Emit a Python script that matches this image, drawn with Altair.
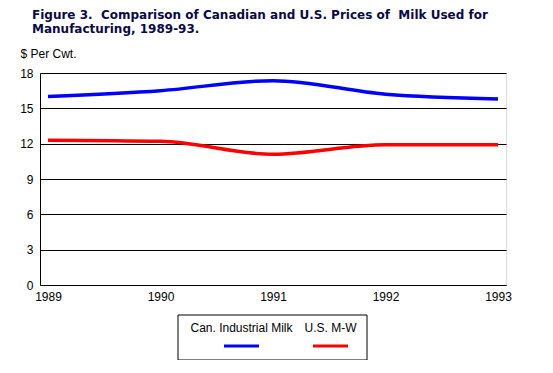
import altair as alt
import pandas as pd

years = [1989, 1990, 1991, 1992, 1993]
can_industrial = [16.0, 16.5, 17.35, 16.2, 15.8]
us_mw = [12.3, 12.2, 11.1, 11.9, 11.9]
series_names = ["Can. Industrial Milk", "U.S. M-W"]
series_colors = ["#0000FF", "#FF0000"]
y_ticks = [0, 3, 6, 9, 12, 15, 18]
title_lines = [
    "Figure 3.\u00a0 Comparison of Canadian and U.S. Prices of\u00a0 Milk Used for",
    "Manufacturing, 1989-93.",
]
y_title = "$ Per Cwt."

FONT = "Liberation Sans"

df = pd.DataFrame({
    "year": years * 2,
    "value": can_industrial + us_mw,
    "series": [series_names[0]] * len(years) + [series_names[1]] * len(years),
})

color_scale = alt.Scale(domain=series_names, range=series_colors)

lines = alt.Chart(df).mark_line(
    strokeWidth=3.5, interpolate="monotone"
).encode(
    x=alt.X("year:O", scale=alt.Scale(type="point", padding=0.071),
            axis=alt.Axis(title=None, labelAngle=0, ticks=False, domain=True,
                          domainColor="black", labelPadding=6, grid=False,
                          labelFont=FONT, labelFontSize=12, labelColor="black")),
    y=alt.Y("value:Q", scale=alt.Scale(domain=[0, 18], nice=False),
            axis=alt.Axis(values=y_ticks, title=y_title, titleAngle=0,
                          titleAlign="left", titleBaseline="alphabetic",
                          titleX=-20, titleY=-16, titleFont=FONT,
                          titleFontSize=12, titleFontWeight="normal",
                          titleColor="black",
                          ticks=False, labelPadding=7, grid=True,
                          gridColor="black", gridOpacity=1, gridWidth=1,
                          domainColor="black", labelFont=FONT,
                          labelFontSize=12, labelColor="black")),
    color=alt.Color("series:N", scale=color_scale, legend=None),
)

# Custom legend (text over swatch), located below the plot
leg_df = pd.DataFrame({
    "series": series_names,
    "cx": [201.5, 290.5],
})

legend_box = alt.Chart(pd.DataFrame({"a": [0]})).mark_rect(
    fill="white", stroke="black", strokeWidth=1
).encode(
    x=alt.value(138), x2=alt.value(327), y=alt.value(242), y2=alt.value(287)
)

legend_text = alt.Chart(leg_df).mark_text(
    font=FONT, fontSize=12, color="black", baseline="middle", align="center"
).encode(
    x=alt.X("cx:Q", scale=None),
    y=alt.value(255),
    text="series:N",
)

legend_swatch = alt.Chart(leg_df).mark_rule(strokeWidth=3).encode(
    x=alt.X("x1:Q", scale=None),
    x2="x2:Q",
    y=alt.value(273),
    color=alt.Color("series:N", scale=color_scale, legend=None),
).transform_calculate(x1="datum.cx - 17.5", x2="datum.cx + 17.5")

chart = alt.layer(lines, legend_box, legend_text, legend_swatch).properties(
    width=466,
    height=212,
    title=alt.TitleParams(
        text=title_lines, anchor="start", font="DejaVu Sans", fontSize=12,
        fontWeight="bold", color="#0a0a46", dx=-8, dy=-7, lineHeight=14.5,
        frame="group",
    ),
    autosize=alt.AutoSizeParams(type="none"),
    padding={"left": 32, "top": 65, "right": 39, "bottom": 75},
).configure_view(
    stroke="black", strokeWidth=1
).configure(background="white")

chart.save("out.html", embed_options={"renderer": "svg", "actions": False})
